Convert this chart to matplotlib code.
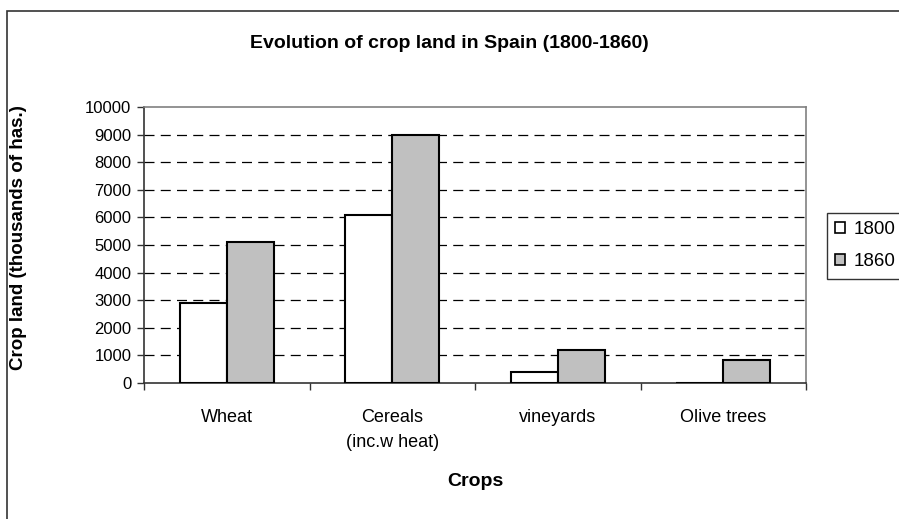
import numpy as np
import matplotlib.pyplot as plt
from matplotlib.patches import Rectangle

plt.rcParams['font.family'] = ['Liberation Sans', 'DejaVu Sans']

# Data (thousands of hectares)
crops = ['Wheat', 'Cereals\n(inc.w heat)', 'vineyards', 'Olive trees']
land_1800 = [2900, 6100, 400, 0]
land_1860 = [5100, 9000, 1200, 850]
yticks = np.arange(0, 10001, 1000)

W, H = 899, 519
fig = plt.figure(figsize=(W / 100, H / 100), dpi=100)

# outer chart frame (runs off the right and bottom edges)
fig.patches.append(Rectangle((7 / W, -0.1), 1.2, 1.1 - 11 / H, transform=fig.transFigure,
                             fill=False, edgecolor='#333333', linewidth=1.2))

ax = fig.add_axes([144 / W, (H - 383) / H, (806 - 144) / W, (383 - 107) / H])

x = np.arange(len(crops))
bw = 0.284
ax.bar(x - bw / 2, land_1800, bw, color='white', edgecolor='black', linewidth=1.5, label='1800', zorder=3)
ax.bar(x + bw / 2, land_1860, bw, color='#c0c0c0', edgecolor='black', linewidth=1.5, label='1860', zorder=3)

ax.set_xlim(-0.5, len(crops) - 0.5)
ax.set_ylim(0, 10000)
ax.set_yticks(yticks)
ax.set_yticklabels([str(v) for v in yticks], fontsize=12)
ax.set_xticks(x)
ax.set_xticklabels(crops, fontsize=13, linespacing=1.6)
ax.set_xticks(np.arange(-0.5, len(crops)), minor=True)
ax.tick_params(axis='x', which='major', length=0, pad=19)
ax.tick_params(axis='x', which='minor', length=5, width=1, color='#333333')
ax.tick_params(axis='y', length=5, width=1, color='#333333', pad=4)

for v in yticks[1:-1]:
    ax.axhline(v, color='black', linewidth=0.9, dashes=(8, 5), zorder=1)

for side in ['top', 'right']:
    ax.spines[side].set_color('#808080')
    ax.spines[side].set_linewidth(1.2)
for side in ['left', 'bottom']:
    ax.spines[side].set_color('#333333')
    ax.spines[side].set_linewidth(1.2)

ax.set_xlabel('Crops', fontsize=14, fontweight='bold', labelpad=16)
fig.text(19 / W, 1 - 238 / H, 'Crop land (thousands of has.)', fontsize=13.5, fontweight='bold',
         rotation=90, ha='center', va='center')
fig.text(449 / W, 1 - 44 / H, 'Evolution of crop land in Spain (1800-1860)', fontsize=14,
         fontweight='bold', ha='center', va='center')

leg = ax.legend(loc='upper left', bbox_to_anchor=(827 / W, 1 - 213 / H), bbox_transform=fig.transFigure,
                fontsize=13.5, frameon=True, fancybox=False, handlelength=0.5, handleheight=0.5,
                handletextpad=0.45, borderpad=0.45, labelspacing=0.8, borderaxespad=0)
leg.get_frame().set_edgecolor('black')
leg.get_frame().set_linewidth(1)
for p in leg.get_patches():
    p.set_linewidth(1.2)

fig.savefig('out.png', dpi=100)
